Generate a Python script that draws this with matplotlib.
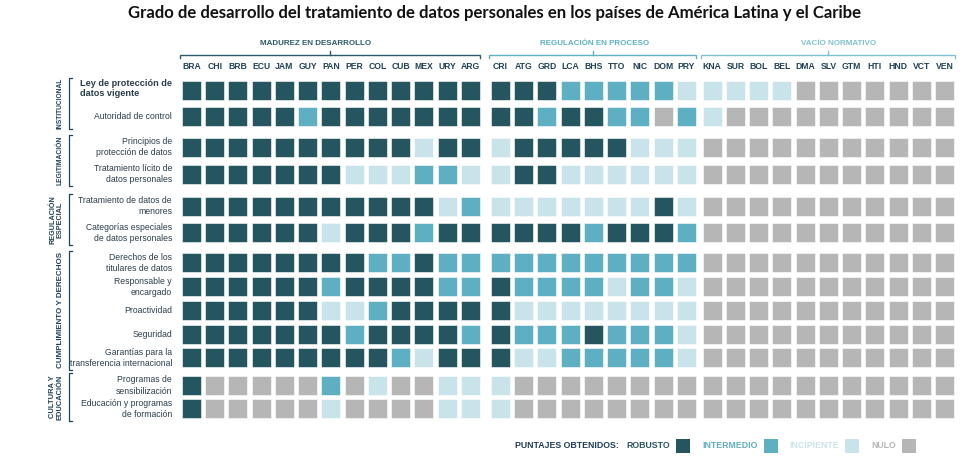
import matplotlib
matplotlib.use("Agg")
import matplotlib.pyplot as plt
from matplotlib.patches import Rectangle
from matplotlib import font_manager

# ---------------- DATA ----------------
title = "Grado de desarrollo del tratamiento de datos personales en los países de América Latina y el Caribe"

group_titles = ["MADUREZ EN DESARROLLO", "REGULACIÓN EN PROCESO", "VACÍO NORMATIVO"]
countries_madurez = ["BRA", "CHI", "BRB", "ECU", "JAM", "GUY", "PAN", "PER", "COL", "CUB", "MEX", "URY", "ARG"]
countries_regulacion = ["CRI", "ATG", "GRD", "LCA", "BHS", "TTO", "NIC", "DOM", "PRY"]
countries_vacio = ["KNA", "SUR", "BOL", "BEL", "DMA", "SLV", "GTM", "HTI", "HND", "VCT", "VEN"]

dimensions = ["INSTITUCIONAL", "LEGITIMACIÓN", "REGULACIÓN\nESPECIAL",
              "CUMPLIMIENTO Y DERECHOS", "CULTURA Y\nEDUCACIÓN"]
indicators = ["Ley de protección de\ndatos vigente",
              "Autoridad de control",
              "Principios de\nprotección de datos",
              "Tratamiento lícito de\ndatos personales",
              "Tratamiento de datos de\nmenores",
              "Categorías especiales\nde datos personales",
              "Derechos de los\ntitulares de datos",
              "Responsable y\nencargado",
              "Proactividad",
              "Seguridad",
              "Garantías para la\ntransferencia internacional",
              "Programas de\nsensibilización",
              "Educación y programas\nde formación"]
indicator_dimension = [0, 0, 1, 1, 2, 2, 3, 3, 3, 3, 3, 4, 4]

# 0 = NULO, 1 = INCIPIENTE, 2 = INTERMEDIO, 3 = ROBUSTO
score_labels = ["NULO", "INCIPIENTE", "INTERMEDIO", "ROBUSTO"]
legend_title = "PUNTAJES OBTENIDOS:"

scores_madurez = [
    [3, 3, 3, 3, 3, 3, 3, 3, 3, 3, 3, 3, 3],
    [3, 3, 3, 3, 3, 2, 3, 3, 3, 3, 3, 3, 3],
    [3, 3, 3, 3, 3, 3, 3, 3, 3, 3, 1, 3, 3],
    [3, 3, 3, 3, 3, 3, 3, 1, 1, 1, 2, 2, 1],
    [3, 3, 3, 3, 3, 3, 3, 3, 3, 3, 3, 1, 2],
    [3, 3, 3, 3, 3, 3, 1, 3, 3, 3, 2, 3, 3],
    [3, 3, 3, 3, 3, 3, 3, 3, 2, 2, 3, 2, 2],
    [3, 3, 3, 3, 3, 3, 2, 3, 3, 3, 3, 2, 2],
    [3, 3, 3, 3, 3, 3, 1, 1, 2, 3, 3, 3, 3],
    [3, 3, 3, 3, 3, 3, 3, 2, 3, 3, 3, 3, 2],
    [3, 3, 3, 3, 3, 3, 3, 3, 3, 2, 1, 3, 3],
    [3, 0, 0, 0, 0, 0, 2, 0, 1, 0, 0, 1, 1],
    [3, 0, 0, 0, 0, 0, 1, 0, 0, 0, 0, 1, 1],
]
scores_regulacion = [
    [3, 3, 3, 2, 2, 2, 2, 2, 1],
    [3, 3, 2, 3, 3, 2, 2, 0, 2],
    [1, 3, 3, 3, 3, 3, 1, 1, 1],
    [1, 3, 3, 1, 1, 1, 1, 1, 1],
    [1, 1, 1, 1, 1, 1, 1, 3, 1],
    [3, 3, 3, 3, 2, 3, 3, 3, 2],
    [2, 2, 2, 2, 2, 2, 2, 2, 2],
    [3, 2, 2, 2, 2, 1, 2, 2, 1],
    [3, 1, 1, 1, 1, 1, 1, 1, 1],
    [3, 2, 2, 2, 3, 2, 2, 2, 1],
    [3, 1, 1, 2, 2, 2, 2, 2, 1],
    [1, 0, 0, 0, 0, 0, 0, 0, 0],
    [1, 0, 0, 0, 0, 0, 0, 0, 0],
]
scores_vacio = [
    [1, 1, 1, 1, 0, 0, 0, 0, 0, 0, 0],
    [1, 0, 0, 0, 0, 0, 0, 0, 0, 0, 0],
    [0, 0, 0, 0, 0, 0, 0, 0, 0, 0, 0],
    [0, 0, 0, 0, 0, 0, 0, 0, 0, 0, 0],
    [0, 0, 0, 0, 0, 0, 0, 0, 0, 0, 0],
    [0, 0, 0, 0, 0, 0, 0, 0, 0, 0, 0],
    [0, 0, 0, 0, 0, 0, 0, 0, 0, 0, 0],
    [0, 0, 0, 0, 0, 0, 0, 0, 0, 0, 0],
    [0, 0, 0, 0, 0, 0, 0, 0, 0, 0, 0],
    [0, 0, 0, 0, 0, 0, 0, 0, 0, 0, 0],
    [0, 0, 0, 0, 0, 0, 0, 0, 0, 0, 0],
    [0, 0, 0, 0, 0, 0, 0, 0, 0, 0, 0],
    [0, 0, 0, 0, 0, 0, 0, 0, 0, 0, 0],
]

# ---------------- STYLE / LAYOUT ----------------
score_colors = ["#b6b6b6", "#c9e3ea", "#5eafc1", "#25565f"]
group_colors = ["#2c5c6a", "#5eafc1", "#7cc2d1"]
label_color = "#2a3d4b"
header_color = "#1f4256"

avail = {f.name for f in font_manager.fontManager.ttflist}
def pick(*names):
    for n in names:
        if n in avail:
            return n
    return "DejaVu Sans"

narrow = pick("Liberation Sans Narrow", "DejaVu Sans Condensed", "Liberation Sans", "DejaVu Sans")
sans = pick("Liberation Sans", "DejaVu Sans")
title_font = pick("Lato", "Open Sans", "DejaVu Sans")

W, H = 970, 465
fig = plt.figure(figsize=(W / 100, H / 100), dpi=100)
ax = fig.add_axes([0, 0, 1, 1])
ax.set_xlim(0, W)
ax.set_ylim(H, 0)
ax.axis("off")
renderer = fig.canvas.get_renderer()

def fit_w(t, target, lo=0.0, hi=99.0):
    bb = t.get_window_extent(renderer)
    t.set_fontsize(min(hi, max(lo, t.get_fontsize() * target / bb.width)))

def fit_h(t, target, lo=0.0, hi=99.0):
    bb = t.get_window_extent(renderer)
    t.set_fontsize(min(hi, max(lo, t.get_fontsize() * target / bb.height)))

# column positions
groups = [countries_madurez, countries_regulacion, countries_vacio]
group_scores = [scores_madurez, scores_regulacion, scores_vacio]
col_step = 23.25
x_start = 191.5
group_extra = [0.0, 6.75, 2.35]
group_x = []
x = x_start - col_step
for g, cs in enumerate(groups):
    x += group_extra[g]
    xs = []
    for _ in cs:
        x += col_step
        xs.append(x)
    group_x.append(xs)

# row positions
dim_pitch = [26.5, 26.7, 26.6, 23.75, 23.3]
dim_gap = [30.6, 32.2, 30.0, 27.7]
y_start = 90.2
row_y = []
for i, d in enumerate(indicator_dimension):
    if i == 0:
        row_y.append(y_start)
    elif d != indicator_dimension[i - 1]:
        row_y.append(row_y[-1] + dim_gap[indicator_dimension[i - 1]])
    else:
        row_y.append(row_y[-1] + dim_pitch[d])

cell = 19.0

# cells
for g in range(3):
    for r, row in enumerate(group_scores[g]):
        for c, v in enumerate(row):
            ax.add_patch(Rectangle((group_x[g][c] - cell / 2, row_y[r] - cell / 2), cell, cell,
                                   facecolor=score_colors[v], edgecolor="white",
                                   linewidth=0.4))

# country headers and group brackets
title_shift = [-15, 2, 11]
for g, cs in enumerate(groups):
    for c, name in enumerate(cs):
        ax.text(group_x[g][c], 66.5, name, ha="center", va="center", family=narrow,
                fontweight="bold", fontsize=6.2, color=header_color)
    x0 = group_x[g][0] - 11
    x1 = group_x[g][-1] + 10
    xm = (x0 + x1) / 2
    yb = 55
    ax.plot([x0, x0, x1, x1], [58.5, yb, yb, 58.5], color=group_colors[g], lw=1.0,
            solid_joinstyle="miter")
    ax.plot([xm, xm], [yb, 51.5], color=group_colors[g], lw=1.0)
    ax.text(xm + title_shift[g], 43.5, group_titles[g], ha="center", va="center", family=narrow,
            fontweight="bold", fontsize=5.8, color=group_colors[g])

# indicator labels
for r, lab in enumerate(indicators):
    if r == 0:
        ax.text(172, row_y[r] - 1.5, lab, ha="right", va="center", multialignment="left",
                family=sans, fontsize=6.6, fontweight="bold", color=label_color,
                linespacing=1.15)
    else:
        ax.text(172, row_y[r], lab, ha="right", va="center", multialignment="right",
                family=sans, fontsize=6.2, color=label_color, linespacing=1.3)

# dimension labels and brackets
for d, dname in enumerate(dimensions):
    rows = [i for i, dd in enumerate(indicator_dimension) if dd == d]
    y0 = row_y[rows[0]] - 12
    y1 = row_y[rows[-1]] + 12
    bx = 69
    ax.plot([bx + 3, bx, bx, bx + 3], [y0, y0, y1, y1], color=header_color, lw=0.9)
    t = ax.text(64, (y0 + y1) / 2, dname, rotation=90, ha="right", va="center",
                multialignment="center", family=narrow, fontweight="bold",
                fontsize=6.0, color=header_color, linespacing=1.1)
    fit_h(t, (y1 - y0) - 2, lo=4.8, hi=6.0)

# title
tt = ax.text(494.5, 13, title, ha="center", va="center", family=title_font,
             fontweight="bold", fontsize=13, color="#111111")
fit_w(tt, 735)

# legend
ly = 445.5
sq = 14
lfs = 6.3
t = ax.text(515, ly, legend_title, ha="left", va="center", family=narrow,
            fontweight="bold", fontsize=lfs, color="#1d3d5c")
xcur = t.get_window_extent(renderer).x1 + 8
for v in [3, 2, 1, 0]:
    t = ax.text(xcur, ly, score_labels[v], ha="left", va="center", family=narrow,
                fontweight="bold", fontsize=lfs, color=score_colors[v])
    xr = t.get_window_extent(renderer).x1
    ax.add_patch(Rectangle((xr + 6, ly - sq / 2), sq, sq, facecolor=score_colors[v],
                           edgecolor="none"))
    xcur = xr + 6 + sq + 12

fig.savefig("out.png", dpi=100)
